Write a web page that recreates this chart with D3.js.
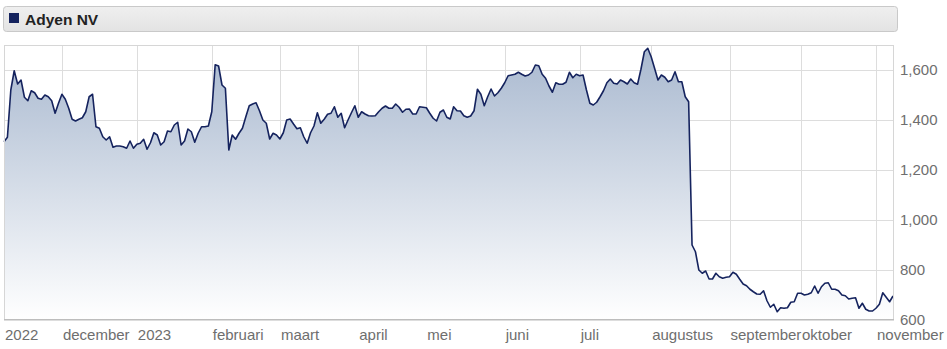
<!DOCTYPE html>
<html>
<head>
<meta charset="utf-8">
<script src="https://cdn.jsdelivr.net/npm/d3@7"></script>
<style>
  body { margin: 0; background: #fff; }
  text { font-family: "Liberation Sans", Arial, sans-serif; }
</style>
</head>
<body>
<div id="chart"></div>
<script>
// closing prices, one per trading day
const prices = [
  1313,1331,1520,1597,1544,1560,1491,1477,1517,1509,1487,1483,1500,1493,1477,1427,1467,1503,1483,1447,
  1403,1396,1403,1409,1433,1493,1503,1373,1367,1333,1320,1333,1291,1296,1296,1293,1287,1316,1287,1303,
  1307,1323,1283,1309,1349,1340,1300,1313,1356,1353,1380,1391,1300,1316,1364,1353,1311,1347,1373,1373,
  1376,1433,1621,1616,1540,1527,
  1280,1340,1323,1347,1367,1413,1457,1464,1469,1437,1400,1387,1324,1347,1340,1324,1349,1400,1404,1384,
  1365,1369,1333,1307,1349,1376,1429,1387,1403,1423,1427,1453,1411,1427,1369,1400,1429,1457,1411,1433,
  1424,1417,1416,1417,1433,1447,1456,1447,1447,1464,1451,1431,1443,1444,1424,1424,1453,1451,1449,1427,
  1407,1396,1431,1440,1411,1404,1453,
  1437,1436,1417,1411,1416,1437,1523,1503,1457,1493,1524,1496,1509,1527,1549,1577,1580,1583,1591,1583,
  1576,1580,1591,1620,1617,1583,1567,1536,1511,1549,1543,1543,1551,1591,1569,1583,1577,1580,1520,1467,
  1460,1471,1493,1517,1549,1564,1547,1544,1560,1553,1544,1564,1549,1543,1603,1673,1687,1653,1607,1560,
  1580,1571,1553,1560,1593,1553,1553,1493,1473,
  900,873,800,787,796,764,764,787,773,767,771,773,791,783,763,744,737,723,713,704,
  703,717,677,651,663,633,649,647,649,671,673,707,707,700,703,709,736,707,733,747,
  749,723,723,717,700,697,684,687,689,647,667,643,636,636,647,663,709,691,673,696
];

// trading-day index where each month label starts
const monthIndex = [0, 17, 39, 61, 81, 104, 124, 147, 169, 190, 213, 234, 256];
const monthLabels = ['2022', 'december', '2023', 'februari', 'maart', 'april', 'mei',
  'juni', 'juli', 'augustus', 'september', 'oktober', 'november'];

const yTicks = [600, 800, 1000, 1200, 1400, 1600];
const yDomain = [600, 1700];

const title = 'Adyen NV';

class PriceChart {

  constructor(_config, _data) {
    this.config = {
      parentElement: _config.parentElement,
      containerWidth: _config.containerWidth || 947,
      containerHeight: _config.containerHeight || 349,
      margin: _config.margin || { top: 45, right: 53, bottom: 29, left: 4 }
    }
    this.data = _data;
    this.initVis();
  }

  initVis() {
    const vis = this;

    vis.width = vis.config.containerWidth - vis.config.margin.left - vis.config.margin.right;
    vis.height = vis.config.containerHeight - vis.config.margin.top - vis.config.margin.bottom;

    vis.svg = d3.select(vis.config.parentElement).append('svg')
      .attr('width', vis.config.containerWidth)
      .attr('height', vis.config.containerHeight);

    // title bar
    const defs = vis.svg.append('defs');
    const barGrad = defs.append('linearGradient')
      .attr('id', 'bar-grad')
      .attr('x1', 0).attr('y1', 0).attr('x2', 0).attr('y2', 1);
    barGrad.append('stop').attr('offset', '0%').attr('stop-color', '#efefef');
    barGrad.append('stop').attr('offset', '100%').attr('stop-color', '#e3e3e3');

    vis.svg.append('rect')
      .attr('x', 3.5).attr('y', 6.5)
      .attr('width', 894).attr('height', 25)
      .attr('rx', 3)
      .attr('fill', 'url(#bar-grad)')
      .attr('stroke', '#c9c9c9');

    vis.svg.append('rect')
      .attr('x', 9).attr('y', 13)
      .attr('width', 10).attr('height', 10)
      .attr('fill', '#15235e');

    vis.svg.append('text')
      .attr('x', 25).attr('y', 24.5)
      .style('font-size', '15.5px')
      .style('font-weight', 'bold')
      .attr('fill', '#222')
      .text(title);

    vis.chart = vis.svg.append('g')
      .attr('transform', `translate(${vis.config.margin.left},${vis.config.margin.top})`);

    vis.xScale = d3.scaleLinear()
      .domain([0, vis.data.length - 1])
      .range([0, vis.width - 1]);

    vis.yScale = d3.scaleLinear()
      .domain(yDomain)
      .range([vis.height, 0]);

    const areaGrad = defs.append('linearGradient')
      .attr('id', 'area-grad')
      .attr('gradientUnits', 'userSpaceOnUse')
      .attr('x1', 0).attr('y1', 0).attr('x2', 0).attr('y2', vis.height);
    areaGrad.append('stop').attr('offset', '0%').attr('stop-color', '#a8b8cf');
    areaGrad.append('stop').attr('offset', '100%').attr('stop-color', '#ffffff');

    vis.area = d3.area()
      .x((d, i) => vis.xScale(i))
      .y0(vis.height)
      .y1(d => vis.yScale(d));

    vis.line = d3.line()
      .x((d, i) => vis.xScale(i))
      .y(d => vis.yScale(d));
  }

  renderVis() {
    const vis = this;

    // grid
    vis.chart.selectAll('.hgrid')
      .data(yTicks)
      .join('line')
      .attr('class', 'hgrid')
      .attr('x1', 0).attr('x2', vis.width)
      .attr('y1', d => Math.round(vis.yScale(d)) + 0.5)
      .attr('y2', d => Math.round(vis.yScale(d)) + 0.5)
      .attr('stroke', '#dddddd');

    vis.chart.selectAll('.vgrid')
      .data(monthIndex.slice(1))
      .join('line')
      .attr('class', 'vgrid')
      .attr('x1', d => Math.round(vis.xScale(d)) + 0.5)
      .attr('x2', d => Math.round(vis.xScale(d)) + 0.5)
      .attr('y1', 0).attr('y2', vis.height)
      .attr('stroke', '#dddddd');

    vis.chart.append('path')
      .datum(vis.data)
      .attr('d', vis.area)
      .attr('fill', 'url(#area-grad)');

    vis.chart.append('path')
      .datum(vis.data)
      .attr('d', vis.line)
      .attr('fill', 'none')
      .attr('stroke', '#15235e')
      .attr('stroke-width', 1.6)
      .attr('stroke-linejoin', 'round');

    // frame
    vis.chart.append('rect')
      .attr('x', 0.5).attr('y', 0.5)
      .attr('width', vis.width - 1).attr('height', vis.height - 1)
      .attr('fill', 'none')
      .attr('stroke', '#d6d6d6');

    vis.chart.append('line')
      .attr('x1', 0).attr('x2', vis.width)
      .attr('y1', vis.height - 0.5).attr('y2', vis.height - 0.5)
      .attr('stroke', '#bdbdbd');

    // labels
    vis.chart.selectAll('.xlabel')
      .data(monthIndex)
      .join('text')
      .attr('class', 'xlabel')
      .attr('x', d => vis.xScale(d) + 1)
      .attr('y', vis.height + 19.5)
      .style('font-size', '15px')
      .attr('fill', '#6e6e6e')
      .text((d, i) => monthLabels[i]);

    vis.chart.selectAll('.ylabel')
      .data(yTicks)
      .join('text')
      .attr('class', 'ylabel')
      .attr('x', vis.width + 6)
      .attr('y', d => vis.yScale(d))
      .attr('dy', '0.36em')
      .style('font-size', '15px')
      .attr('fill', '#6e6e6e')
      .text(d => d3.format(',')(d));
  }
}

const chart = new PriceChart({ parentElement: '#chart' }, prices);
chart.renderVis();
</script>
</body>
</html>
